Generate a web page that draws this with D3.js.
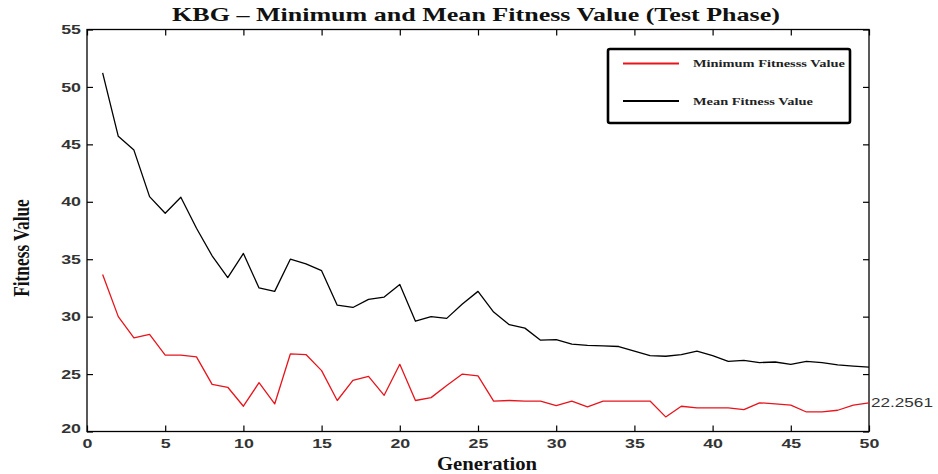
<!DOCTYPE html>
<html><head><meta charset="utf-8">
<script src="https://cdn.jsdelivr.net/npm/d3@7"></script>
<style>body{margin:0;background:#fff}svg{display:block}</style>
</head><body>
<svg id="chart" width="938" height="474"></svg>
<script>
const generations = d3.range(1, 51);
const minFitness = [33.67,30.0,28.15,28.45,26.65,26.65,26.5,24.1,23.85,22.2,
  24.25,22.4,26.75,26.7,25.3,22.7,24.45,24.8,23.15,25.85,
  22.7,22.95,24.0,25.0,24.85,22.64,22.7,22.65,22.65,22.26,
  22.65,22.15,22.65,22.65,22.65,22.65,21.27,22.2,22.05,22.05,
  22.05,21.9,22.5,22.4,22.3,21.7,21.7,21.85,22.3,22.5];
const meanFitness = [51.23,45.7,44.5,40.45,39.0,40.4,37.7,35.3,33.4,35.5,
  32.5,32.2,35.0,34.6,34.0,31.0,30.8,31.5,31.7,32.8,
  29.6,30.0,29.85,31.1,32.2,30.4,29.3,29.0,27.95,28.0,
  27.6,27.5,27.45,27.4,27.0,26.6,26.55,26.7,27.0,26.6,
  26.1,26.2,26.0,26.05,25.85,26.1,26.0,25.8,25.7,25.6];
const xTicks = [0,5,10,15,20,25,30,35,40,45,50];
const yTicks = [20,25,30,35,40,45,50,55];
const seriesNames = ["Minimum Fitnesss Value","Mean Fitness Value"];
const seriesColors = ["#e8141c","#000000"];
const endLabel = "22.2561";

const K = 1.37; // horizontal stretch of the original picture
const svg = d3.select("#chart");
const L = 87, R = 869, T = 29.5, B = 431.5;
const x = d3.scaleLinear().domain([0,50]).range([L,R]);
const y = d3.scaleLinear().domain([20,55]).range([B,T]);

function stretch(sel, k){
  sel.each(function(){
    const len = this.getComputedTextLength();
    d3.select(this).attr("textLength", len*k).attr("lengthAdjust","spacingAndGlyphs");
  });
}

// title
svg.append("text").attr("x",476).attr("y",21).attr("text-anchor","middle")
  .attr("font-family","Liberation Serif, serif").attr("font-weight","bold")
  .attr("font-size",19).attr("fill","#111")
  .text("KBG \u2013 Minimum and Mean Fitness Value (Test Phase)").call(stretch, K);

// axes
const tickFont = g => g.selectAll("text").attr("font-family","Liberation Sans, Arial, sans-serif")
  .attr("font-size",13).attr("font-weight","bold").attr("fill","#333");
const gx = svg.append("g").attr("transform",`translate(0,${B})`)
  .call(d3.axisBottom(x).tickValues(xTicks).tickSizeInner(-6).tickSizeOuter(0).tickPadding(7));
gx.call(tickFont);
gx.select(".domain").remove();
gx.selectAll("text").call(stretch, K);
const gy = svg.append("g").attr("transform",`translate(${L},0)`)
  .call(d3.axisLeft(y).tickValues(yTicks).tickSizeInner(-6).tickSizeOuter(0).tickPadding(6));
gy.call(tickFont);
gy.select(".domain").remove();
gy.selectAll("text").filter(d=>d===20).attr("dy","0.1em");
gy.selectAll("text").call(stretch, K);
const gt = svg.append("g").attr("transform",`translate(0,${T})`)
  .call(d3.axisTop(x).tickValues(xTicks).tickSizeInner(-6).tickSizeOuter(0).tickFormat(""));
gt.select(".domain").remove();
const gr = svg.append("g").attr("transform",`translate(${R},0)`)
  .call(d3.axisRight(y).tickValues(yTicks).tickSizeInner(-6).tickSizeOuter(0).tickFormat(""));
gr.select(".domain").remove();
svg.selectAll(".tick line").attr("stroke","#000").attr("stroke-width",1.2);
svg.append("rect").attr("x",L).attr("y",T).attr("width",R-L).attr("height",B-T)
  .attr("fill","none").attr("stroke","#000").attr("stroke-width",1.3);

// axis labels
svg.append("text").attr("x",487).attr("y",470).attr("text-anchor","middle")
  .attr("font-family","Liberation Serif, serif").attr("font-weight","bold")
  .attr("font-size",18).attr("fill","#111").text("Generation")
  .attr("textLength",100).attr("lengthAdjust","spacingAndGlyphs");
svg.append("text").attr("transform",`translate(29,248) scale(${K},1) rotate(-90)`).attr("text-anchor","middle")
  .attr("font-family","Liberation Serif, serif").attr("font-weight","bold")
  .attr("font-size",17.3).attr("fill","#111").text("Fitness Value");

// lines
const line = d3.line().x((d,i)=>x(generations[i])).y(d=>y(d));
[minFitness, meanFitness].forEach((s,k)=>{
  svg.append("path").datum(s).attr("d",line).attr("fill","none")
    .attr("stroke",seriesColors[k]).attr("stroke-width",1.3).attr("stroke-linejoin","round");
});

// end label
svg.append("text").attr("x",R+2).attr("y",y(minFitness[49])).attr("dy","0.35em")
  .attr("font-family","Liberation Sans, Arial, sans-serif").attr("font-size",12.5)
  .attr("fill","#333").text(endLabel).call(stretch, K);

// legend
const lg = svg.append("g");
lg.append("rect").attr("x",608).attr("y",49).attr("width",242).attr("height",74).attr("rx",2)
  .attr("fill","#fff").attr("stroke","#000").attr("stroke-width",2.6);
[63.5,101].forEach((yy,k)=>{
  lg.append("line").attr("x1",623).attr("x2",679).attr("y1",yy).attr("y2",yy)
    .attr("stroke",seriesColors[k]).attr("stroke-width",2.2);
  lg.append("text").attr("x",693).attr("y",yy).attr("dy","0.35em")
    .attr("font-family","Liberation Serif, serif").attr("font-weight","bold")
    .attr("font-size",10.5).attr("fill","#222").text(seriesNames[k]).call(stretch, K);
});
</script>
</body></html>
